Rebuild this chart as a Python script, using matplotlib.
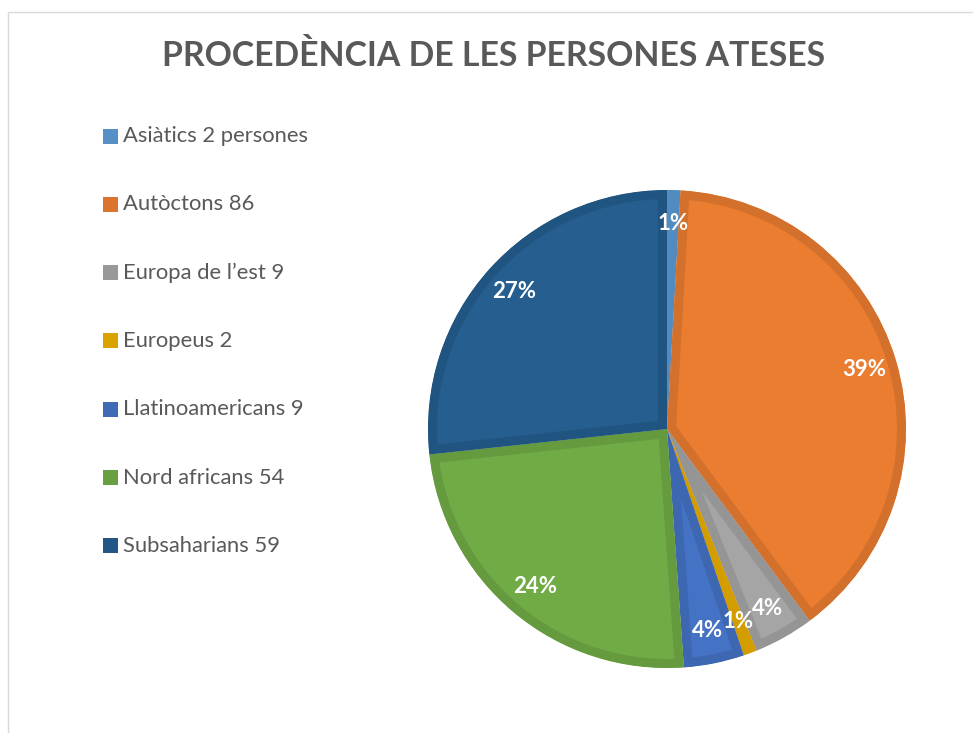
import matplotlib
matplotlib.use("Agg")
import matplotlib.pyplot as plt
from matplotlib.patches import Rectangle
import matplotlib.colors as mcolors
import numpy as np

categories = ["Asiàtics 2 persones", "Autòctons 86", "Europa de l’est 9", "Europeus 2",
              "Llatinoamericans 9", "Nord africans 54", "Subsaharians 59"]
values = [2, 86, 9, 2, 9, 54, 59]
colors = ["#5B9BD5", "#EB7D31", "#A5A5A5", "#EAAE00", "#4472C4", "#70AB46", "#255E8F"]
title = "PROCEDÈNCIA DE LES PERSONES ATESES"

W, H = 973, 733
fig = plt.figure(figsize=(W / 100, H / 100), dpi=100)
fig.patch.set_facecolor("white")

# chart-area border
fig.patches.append(Rectangle((8 / W, -0.1), 1.2, (H - 12) / H + 0.1, transform=fig.transFigure,
                             fill=False, edgecolor="#D9D9D9", linewidth=1.0))

def darker(c, f=0.9):
    r, g, b = mcolors.to_rgb(c)
    return (r * f, g * f, b * f)

cx, cy, R = 667, H - 429, 239
ax = fig.add_axes([(cx - R) / W, (cy - R) / H, 2 * R / W, 2 * R / H])
wedges, texts, autotexts = ax.pie(values, colors=colors, startangle=90, counterclock=False,
                                  radius=1, autopct=lambda p: f"{p:.0f}%", pctdistance=0.86,
                                  textprops=dict(color="white", fontsize=16, fontweight="bold",
                                                 family=["Lato", "DejaVu Sans"]))
for w, c in zip(wedges, colors):
    w.set_edgecolor(darker(c))
    w.set_linewidth(13)
    w.set_clip_on(True)
    w.set_clip_path(w)
ax.set_xlim(-1, 1)
ax.set_ylim(-1, 1)
ax.set_aspect("equal")
ax.axis("off")

fig.text(494 / W, 1 - 56 / H, title, ha="center", va="center", fontsize=24.3, fontweight="bold",
         color="#595959", family=["Lato", "DejaVu Sans"])

# legend
y0, dy = 136, 68.3
for i, (lab, c) in enumerate(zip(categories, colors)):
    y = y0 + i * dy
    fig.patches.append(Rectangle((103 / W, 1 - (y + 7.5) / H), 15 / W, 15 / H,
                                 transform=fig.transFigure, facecolor=darker(c, 0.93),
                                 edgecolor="none"))
    fig.text(123 / W, 1 - y / H, lab, ha="left", va="center", fontsize=15.8, color="#595959",
             family=["Lato", "DejaVu Sans"])

fig.savefig("out.png", dpi=100, facecolor="white")
